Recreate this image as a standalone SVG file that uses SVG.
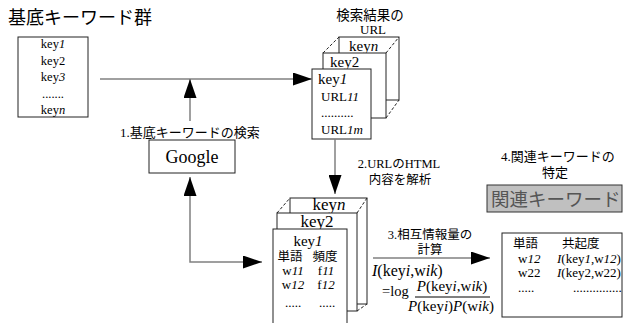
<svg xmlns="http://www.w3.org/2000/svg" width="624" height="323" viewBox="0 0 624 323">
<defs>
<marker id="ah" markerUnits="userSpaceOnUse" markerWidth="19" markerHeight="13" refX="19" refY="6.5" orient="auto-start-reverse">
<path d="M0,0 L19,6.5 L0,13 z" fill="#000"/>
</marker>
<style>
.bx{fill:#fff;stroke:#222;stroke-width:1}
.ds{stroke:#222;stroke-width:1;stroke-dasharray:3,2;fill:none}
.cn{stroke:#808080;stroke-width:1.5;fill:none}
text.t, tspan.r{font-family:'Liberation Serif','Times New Roman',serif}
text.j{font-family:'Noto Sans CJK JP',sans-serif}
.i{font-style:italic}
</style>
</defs>
<rect width="624" height="323" fill="#fff"/>

<text class="j" x="8" y="24" font-size="18">基底キーワード群</text>

<g id="keys">
<rect class="bx" x="18" y="37" width="70" height="80"/>
<text class="t" font-size="12.5" text-anchor="middle"><tspan x="53" y="48">key<tspan class="i">1</tspan></tspan><tspan x="53" y="65">key2</tspan><tspan x="53" y="81">key<tspan class="i">3</tspan></tspan><tspan x="53" y="98">.......</tspan><tspan x="53" y="114">key<tspan class="i">n</tspan></tspan></text>
</g>

<g id="google">
<text class="j" x="190" y="137" font-size="13" text-anchor="middle"><tspan class="r">1.</tspan>基底キーワードの検索</text>
<rect class="bx" x="149" y="140" width="86" height="33"/>
<text class="t" x="192" y="163" font-size="18" text-anchor="middle">Google</text>
</g>

<g id="urls">
<text class="j" x="370" y="20" font-size="13.5" text-anchor="middle">検索結果の</text>
<text class="t" x="373" y="34" font-size="13" text-anchor="middle">URL</text>
<rect class="bx" x="339" y="37" width="60" height="63"/>
<text class="t" x="349" y="51" font-size="15">key<tspan class="i">n</tspan></text>
<line class="ds" x1="323" y1="53" x2="339" y2="37"/>
<line class="ds" x1="386" y1="53" x2="399" y2="37"/>
<line class="ds" x1="386" y1="118" x2="399" y2="100"/>
<rect class="bx" x="323" y="53" width="63" height="65"/>
<text class="t" x="330" y="67" font-size="15">key2</text>
<rect class="bx" x="312" y="69" width="59" height="70"/>
<text class="t" x="318" y="84" font-size="15">key<tspan class="i">1</tspan></text>
<text class="t" x="321" y="101" font-size="13">URL<tspan class="i">11</tspan></text>
<text class="t" x="321" y="117" font-size="13">..........</text>
<text class="t" x="321" y="134" font-size="13">URL<tspan class="i">1m</tspan></text>
</g>

<g id="label2">
<text class="j" x="399" y="168" font-size="12.5" text-anchor="middle"><tspan class="r">2.URL</tspan>の<tspan class="r">HTML</tspan></text>
<text class="j" x="400" y="184" font-size="12.5" text-anchor="middle">内容を解析</text>
</g>

<g id="words">
<rect class="bx" x="290" y="198" width="77" height="106"/>
<text class="t" x="329" y="210" font-size="17" text-anchor="middle">key<tspan class="i">n</tspan></text>
<line class="ds" x1="277" y1="213" x2="290" y2="198"/>
<line class="ds" x1="357" y1="213" x2="367" y2="198"/>
<line class="ds" x1="357" y1="311" x2="367" y2="304"/>
<rect class="bx" x="277" y="213" width="80" height="98"/>
<text class="t" x="317" y="227" font-size="17" text-anchor="middle">key2</text>
<rect class="bx" x="273" y="229" width="74" height="110"/>
<text class="t" x="308" y="246" font-size="15" text-anchor="middle">key<tspan class="i">1</tspan></text>
<text class="j" x="290" y="261" font-size="12.5" text-anchor="middle">単語</text>
<text class="j" x="325" y="261" font-size="12.5" text-anchor="middle">頻度</text>
<text class="t" x="293" y="275" font-size="13" text-anchor="middle">w<tspan class="i">11</tspan></text>
<text class="t" x="326" y="275" font-size="13" text-anchor="middle">f<tspan class="i">11</tspan></text>
<text class="t" x="293" y="289" font-size="13" text-anchor="middle">w<tspan class="i">12</tspan></text>
<text class="t" x="326" y="289" font-size="13" text-anchor="middle">f<tspan class="i">12</tspan></text>
<text class="t" x="293" y="307" font-size="13" text-anchor="middle">.....</text>
<text class="t" x="327" y="307" font-size="13" text-anchor="middle">.....</text>
</g>

<g id="label3">
<text class="j" x="430" y="239" font-size="12.5" text-anchor="middle"><tspan class="r">3.</tspan>相互情報量の</text>
<text class="j" x="430" y="254" font-size="12.5" text-anchor="middle">計算</text>
<text class="t" x="372" y="276" font-size="16"><tspan class="i">I</tspan>(key<tspan class="i">i</tspan>,w<tspan class="i">ik</tspan>)</text>
<text class="t" x="382" y="296" font-size="14.5">=log</text>
<text class="t" x="452" y="291" font-size="15" text-anchor="middle"><tspan class="i">P</tspan>(key<tspan class="i">i</tspan>,w<tspan class="i">ik</tspan>)</text>
<line x1="415" y1="297" x2="490" y2="297" stroke="#000" stroke-width="1"/>
<text class="t" x="451" y="311" font-size="15" text-anchor="middle"><tspan class="i">P</tspan>(key<tspan class="i">i</tspan>)<tspan class="i">P</tspan>(w<tspan class="i">ik</tspan>)</text>
</g>

<g id="label4">
<text class="j" x="558" y="161" font-size="13" text-anchor="middle"><tspan class="r">4.</tspan>関連キーワードの</text>
<text class="j" x="555" y="177" font-size="13" text-anchor="middle">特定</text>
</g>

<g id="related">
<rect x="487" y="185" width="135" height="27" fill="#c0c0c0" stroke="#333" stroke-width="1"/>
<text class="j" x="491" y="206" font-size="18.5" style="fill:#555">関連キーワード</text>
</g>

<g id="result">
<rect class="bx" x="502" y="233" width="120" height="84"/>
<text class="j" x="513" y="248" font-size="12.5">単語</text>
<text class="j" x="562" y="248" font-size="12.5">共起度</text>
<text class="t" x="518" y="263" font-size="13">w<tspan class="i">12</tspan></text>
<text class="t" x="557" y="263" font-size="13"><tspan class="i">I</tspan>(key<tspan class="i">1</tspan>,w<tspan class="i">12</tspan>)</text>
<text class="t" x="518" y="277" font-size="13">w22</text>
<text class="t" x="557" y="277" font-size="13"><tspan class="i">I</tspan>(key2,w22)</text>
<text class="t" x="518" y="292" font-size="13">.....</text>
<text class="t" x="573" y="292" font-size="13">...............</text>
</g>

<g id="connectors">
<line class="cn" x1="100" y1="79" x2="312" y2="79" marker-end="url(#ah)"/>
<line class="cn" x1="190" y1="121" x2="190" y2="79" marker-end="url(#ah)"/>
<path class="cn" d="M190,177 L190,262 L262,262" marker-start="url(#ah)" marker-end="url(#ah)"/>
<line class="cn" x1="335" y1="139" x2="335" y2="194" marker-end="url(#ah)"/>
<line class="cn" x1="373" y1="258" x2="490" y2="258" marker-end="url(#ah)"/>
</g>
</svg>
